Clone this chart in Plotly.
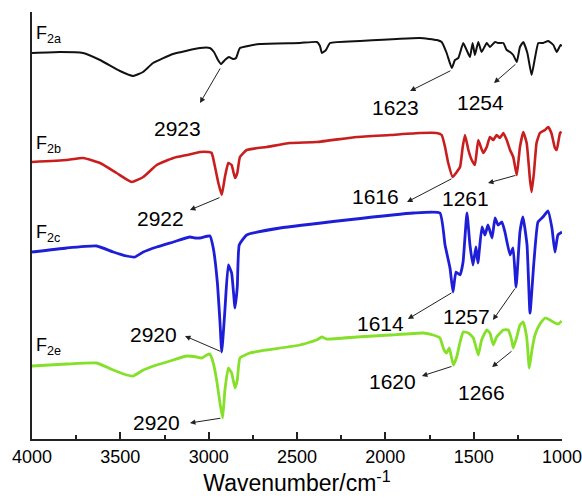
import plotly.graph_objects as go

# ---------------- data ----------------
# Wavenumber (cm^-1) and offset transmittance (arbitrary units)
wn_2a = [4000, 3842, 3711, 3615, 3502, 3428, 3372, 3315, 3202, 3049, 2993, 2970, 2947, 2930, 2908,
         2885, 2862, 2845, 2823, 2710, 2483, 2387, 2370, 2359, 2336, 2313, 2143, 1804, 1708, 1681,
         1653, 1624, 1606, 1587, 1559, 1540, 1521, 1506, 1493, 1474, 1455, 1426, 1408, 1379, 1361,
         1332, 1313, 1294, 1276, 1256, 1238, 1219, 1196, 1172, 1153, 1134, 1106, 1078, 1049, 1030,
         1008, 1000]
t_2a = [386, 387, 386, 379, 368, 363, 367, 376, 385, 391, 391, 387, 379, 375, 379,
        382, 380, 381, 391, 395, 396, 397, 393, 386, 389, 396, 398, 401, 399, 397,
        386, 371, 379, 381, 396, 389, 382, 396, 384, 397, 387, 396, 392, 397, 396,
        396, 389, 387, 384, 377, 392, 397, 386, 364, 381, 396, 396, 398, 394, 387,
        394, 393]

wn_2b = [4000, 3804, 3710, 3615, 3521, 3436, 3370, 3294, 3200, 3124, 3049, 3002, 2983, 2964, 2945,
         2926, 2908, 2889, 2870, 2851, 2838, 2823, 2785, 2672, 2540, 2389, 2162, 1974, 1804, 1709,
         1681, 1662, 1644, 1619, 1596, 1577, 1562, 1549, 1530, 1511, 1493, 1474, 1446, 1426, 1408,
         1389, 1370, 1351, 1332, 1313, 1294, 1276, 1256, 1238, 1219, 1200, 1181, 1172, 1159, 1144,
         1125, 1096, 1078, 1060, 1040, 1030, 1011, 1002]
t_2b = [277, 279, 281, 276, 266, 257, 262, 274, 281, 284, 287, 287, 286, 272, 256,
        244, 262, 276, 274, 261, 266, 282, 289, 292, 296, 297, 302, 304, 306, 306,
        304, 292, 276, 262, 267, 272, 292, 304, 289, 279, 274, 299, 286, 292, 302,
        299, 304, 301, 306, 299, 289, 282, 264, 292, 307, 296, 259, 247, 266, 296,
        306, 309, 312, 306, 291, 289, 306, 307]

wn_2c = [4000, 3804, 3634, 3540, 3464, 3417, 3370, 3294, 3200, 3106, 3077, 3049, 2993, 2974, 2951,
         2936, 2926, 2908, 2889, 2870, 2851, 2838, 2827, 2785, 2596, 2219, 1842, 1691, 1662, 1634,
         1617, 1600, 1577, 1560, 1538, 1521, 1504, 1487, 1476, 1453, 1436, 1419, 1396, 1379, 1362,
         1340, 1323, 1294, 1277, 1260, 1238, 1221, 1198, 1181, 1159, 1136, 1108, 1079, 1057, 1040,
         1023, 1000]
t_2c = [187, 191, 193, 187, 183, 182, 187, 192, 197, 202, 201, 201, 203, 191, 157,
        117, 87, 129, 174, 166, 131, 152, 194, 204, 211, 219, 226, 226, 194, 171,
        147, 167, 164, 177, 226, 194, 174, 192, 176, 212, 204, 214, 201, 221, 214,
        217, 207, 184, 191, 152, 207, 222, 194, 126, 177, 217, 222, 228, 211, 187,
        204, 207]

wn_2e = [4000, 3804, 3634, 3540, 3464, 3427, 3370, 3294, 3200, 3124, 3068, 3039, 3011, 2993, 2974,
         2955, 2936, 2921, 2908, 2889, 2870, 2851, 2838, 2823, 2766, 2672, 2483, 2389, 2360, 2332,
         2162, 1974, 1785, 1729, 1691, 1668, 1653, 1638, 1615, 1596, 1577, 1559, 1530, 1502, 1487,
         1474, 1455, 1426, 1408, 1389, 1370, 1332, 1304, 1285, 1276, 1256, 1238, 1219, 1200, 1185,
         1170, 1153, 1125, 1096, 1068, 1040, 1021, 1002]
t_2e = [73, 75, 76, 69, 64, 63, 69, 74, 79, 83, 82, 81, 84, 85, 76,
        59, 36, 21, 49, 71, 66, 51, 59, 81, 86, 89, 94, 99, 102, 100,
        102, 104, 106, 104, 101, 89, 86, 91, 74, 82, 97, 107, 106, 101, 92,
        84, 99, 109, 106, 94, 102, 109, 109, 99, 91, 102, 114, 117, 102, 71,
        89, 104, 115, 121, 119, 116, 115, 118]

series_names = ["F2a", "F2b", "F2c", "F2e"]
sample_labels = ["F<sub>2a</sub>", "F<sub>2b</sub>", "F<sub>2c</sub>", "F<sub>2e</sub>"]
label_pos = [(3990, 391), (3990, 281), (3990, 192), (3990, 79)]

# peak labels: text, text position, arrow head (near text), arrow tail (at peak)
peak_text = ["2923", "2922", "2920", "2920", "1623", "1254", "1616", "1261", "1614", "1257", "1620", "1266"]
peak_text_xy = [(3179, 311), (3270, 221), (3315, 105), (3298, 17), (1945, 332), (1459, 337),
                (2053, 243), (1549, 241), (2030, 116), (1538, 123), (1962, 58), (1453, 47)]
arrow_head = [(3049, 336), (3106, 229), (3134, 103), (3106, 16), (1860, 348), (1385, 356),
              (1877, 237), (1419, 256), (1872, 120), (1391, 119), (1793, 63), (1396, 72)]
arrow_tail = [(2930, 372), (2930, 242), (2925, 87), (2925, 21), (1623, 369), (1255, 376),
              (1617, 261), (1255, 264), (1617, 147), (1260, 152), (1617, 73), (1277, 89)]

x_ticks = [4000, 3500, 3000, 2500, 2000, 1500, 1000]

# ---------------- figure ----------------
colors = ["#111111", "#c81e1e", "#1e1ed8", "#84e028"]
widths = [2, 2.6, 2.8, 2.8]
fig = go.Figure()
for name, xs, ys, c, w in zip(series_names, [wn_2a, wn_2b, wn_2c, wn_2e],
                              [t_2a, t_2b, t_2c, t_2e], colors, widths):
    fig.add_trace(go.Scatter(x=xs, y=ys, mode="lines", name=name,
                             line=dict(color=c, width=w, shape="spline", smoothing=0.4),
                             showlegend=False, cliponaxis=False))

font = "Liberation Sans, Arial, sans-serif"
annotations = []
for lab, (lx, ly) in zip(sample_labels, label_pos):
    annotations.append(dict(x=lx, y=ly, xref="x", yref="y", text=lab, showarrow=False,
                            xanchor="left", yanchor="bottom",
                            font=dict(family=font, size=18, color="black")))
for txt, (tx, ty) in zip(peak_text, peak_text_xy):
    annotations.append(dict(x=tx, y=ty, xref="x", yref="y", text=txt, showarrow=False,
                            font=dict(family=font, size=21, color="black")))
for (hx, hy), (sx, sy) in zip(arrow_head, arrow_tail):
    annotations.append(dict(x=hx, y=hy, xref="x", yref="y", ax=sx, ay=sy, axref="x", ayref="y",
                            text="", showarrow=True, arrowhead=2, arrowsize=1.1, arrowwidth=1,
                            arrowcolor="#222222", standoff=0, startstandoff=0))

fig.update_layout(
    width=582, height=501,
    margin=dict(l=32, r=20, t=12, b=62, autoexpand=False),
    paper_bgcolor="white", plot_bgcolor="white",
    font=dict(family=font, color="black"),
    annotations=annotations,
    xaxis=dict(range=[4000, 1000], tickvals=x_ticks, ticks="inside", ticklen=7, tickwidth=1.5,
               tickcolor="#222", showline=True, linecolor="#222", linewidth=2, showgrid=False,
               zeroline=False, tickfont=dict(size=18, family=font, color="black"),
               automargin=False, ticklabeloverflow="allow",
               minor=dict(dtick=250, ticks="inside", ticklen=4, tickwidth=1.5, tickcolor="#222"),
               title=dict(text="Wavenumber/cm<sup>-1</sup>", font=dict(size=23, family=font),
                          standoff=8)),
    yaxis=dict(range=[0, 427], showline=True, linecolor="#222", linewidth=2, showgrid=False,
               zeroline=False, showticklabels=False, ticks="", automargin=False),
)

fig.write_html("out.html", config={"displayModeBar": False},
               post_script="document.body.style.margin='0px';document.body.style.overflow='hidden';")
